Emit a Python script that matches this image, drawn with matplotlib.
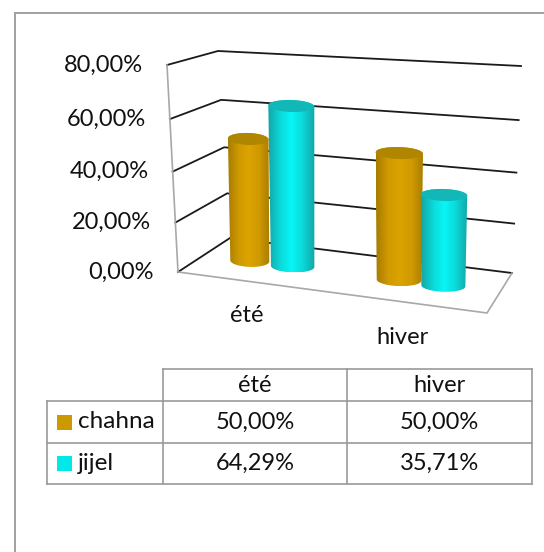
import matplotlib
matplotlib.use("Agg")
import matplotlib.pyplot as plt
import numpy as np
from matplotlib.colors import LinearSegmentedColormap
from matplotlib.patches import Rectangle, PathPatch
from matplotlib.path import Path

plt.rcParams['font.family'] = ['Lato', 'DejaVu Sans']

categories = ['été', 'hiver']
series_names = ['chahna', 'jijel']
chahna = [50.00, 50.00]
jijel = [64.29, 35.71]
y_ticks = [0, 20, 40, 60, 80]

orange = ('#a87c00', '#cf9a00', '#dca400', '#b08600')
cyan = ('#14a6a6', '#0cd8d8', '#08f6f6', '#12b8b8')
swatches = ['#cc9900', '#00e8e8']

# pixel position of the box corners: (category side, value side, depth side)
corners = {
    (0, 0, 0): (178, 272), (0, 1, 0): (167, 65),
    (0, 0, 1): (230, 238), (0, 1, 1): (218, 51),
    (1, 0, 0): (487, 313), (1, 1, 0): (494, 93),
    (1, 0, 1): (512, 273), (1, 1, 1): (521, 66),
}


def project(cat, val, depth):
    # cat in 0..2, val in 0..80, depth in 0..1
    u, v, w = cat / 2, val / 80, depth
    v = v * (1 - 0.06 * (1 - v))  # small perspective squeeze on the value axis
    p = np.zeros(2)
    for (a, b, c), xy in corners.items():
        k = (u if a else 1 - u) * (v if b else 1 - v) * (w if c else 1 - w)
        p += k * np.array(xy)
    return p


def cylinder(ax, cat, val, colors, half_bottom, half_top):
    cx0, cy0 = project(cat, 0, 0.5)
    cx1, cy1 = project(cat, val, 0.5)
    # the bars lean less than the walls do
    cx1 = cx0 + 0.3 * (cx1 - cx0)
    th = np.linspace(0, np.pi, 40)
    tilt = 0.03
    # front of the bottom ellipse, then back of the top ellipse
    bx = cx0 - half_bottom * np.cos(th)
    by = cy0 + 6 * np.sin(th) + tilt * (bx - cx0)
    tx = cx1 + half_top * np.cos(th)
    ty = cy1 - 6 * np.sin(th) + tilt * (tx - cx1)
    xs = np.r_[bx, tx]
    ys = np.r_[by, ty]
    body = PathPatch(Path(np.c_[xs, ys]), fc='none', ec='none', zorder=3)
    ax.add_patch(body)
    cmap = LinearSegmentedColormap.from_list('c', [colors[0], colors[1], colors[2], colors[1], colors[0]])
    grad = ax.imshow(np.linspace(0, 1, 64)[None, :], cmap=cmap, aspect='auto', zorder=3,
                     extent=(xs.min(), xs.max(), ys.max(), ys.min()), interpolation='bilinear')
    grad.set_clip_path(body)
    # top cap
    th2 = np.linspace(0, 2 * np.pi, 60)
    ex = cx1 + half_top * np.cos(th2)
    ey = cy1 + 6 * np.sin(th2) + tilt * (ex - cx1)
    ax.fill(ex, ey, color=colors[3], lw=0, zorder=4)


fig = plt.figure(figsize=(5.44, 5.52), dpi=100)
ax = fig.add_axes([0, 0, 1, 1])
ax.set_xlim(0, 544)
ax.set_ylim(552, 0)
ax.axis('off')

# chart frame, only top and left show
ax.plot([15, 544], [13, 13], color='#a0a0a0', lw=1.4)
ax.plot([15, 15], [13, 552], color='#a0a0a0', lw=1.4)

# walls and floor
for t in y_ticks:
    a, b, c = project(0, t, 0), project(0, t, 1), project(2, t, 1)
    ax.plot([a[0], b[0], c[0]], [a[1], b[1], c[1]], color='#1a1a1a', lw=1.3, zorder=2)
    ax.text(a[0] - 24, a[1], f'{t:.2f}'.replace('.', ',') + '%', fontsize=17,
            ha='right', va='center', color='#111111')
outline = [project(0, 80, 0), project(0, 0, 0), project(2, 0, 0), project(2, 0, 1)]
ax.plot([p[0] for p in outline], [p[1] for p in outline], color='#a8a8a8', lw=1.2, zorder=2)

# bars
bar_cats = [[0.31, 1.32], [0.60, 1.62]]
half_bottom = [[19.5, 22.3], [21.7, 22]]
half_top = [[20.3, 23.7], [23, 23.3]]
for s, (vals, cols) in enumerate(zip([chahna, jijel], [orange, cyan])):
    for i, v in enumerate(vals):
        cylinder(ax, bar_cats[s][i], v, cols, half_bottom[s][i], half_top[s][i])

# category labels under the floor
ax.text(247, 315, categories[0], fontsize=17, ha='center', va='center', color='#111111')
ax.text(402, 338, categories[1], fontsize=17, ha='center', va='center', color='#111111')

# data table
col_x = [47, 163, 347, 532]
row_y = [369, 401, 443, 484]
grey = '#9a9a9a'
ax.plot([col_x[1], col_x[3]], [row_y[0], row_y[0]], color=grey, lw=1.2)
for y in row_y[1:]:
    ax.plot([col_x[0], col_x[3]], [y, y], color=grey, lw=1.2)
ax.plot([col_x[0], col_x[0]], [row_y[1], row_y[3]], color=grey, lw=1.2)
for x in col_x[1:]:
    ax.plot([x, x], [row_y[0], row_y[3]], color=grey, lw=1.2)

for j, cat in enumerate(categories):
    xc = (col_x[j + 1] + col_x[j + 2]) / 2
    ax.text(xc, 385, cat, fontsize=17, ha='center', va='center', color='#111111')
for r, (name, vals) in enumerate(zip(series_names, [chahna, jijel])):
    yc = (row_y[r + 1] + row_y[r + 2]) / 2
    ax.add_patch(Rectangle((57, yc - 7.5), 15, 15, fc=swatches[r], ec='none'))
    ax.text(78, yc, name, fontsize=17.5, ha='left', va='center', color='#111111')
    for j, v in enumerate(vals):
        xc = (col_x[j + 1] + col_x[j + 2]) / 2
        ax.text(xc, yc, f'{v:.2f}'.replace('.', ',') + '%', fontsize=17, ha='center', va='center', color='#111111')

ax.set_xlim(0, 544)
ax.set_ylim(552, 0)
fig.savefig('out.png', dpi=100)
